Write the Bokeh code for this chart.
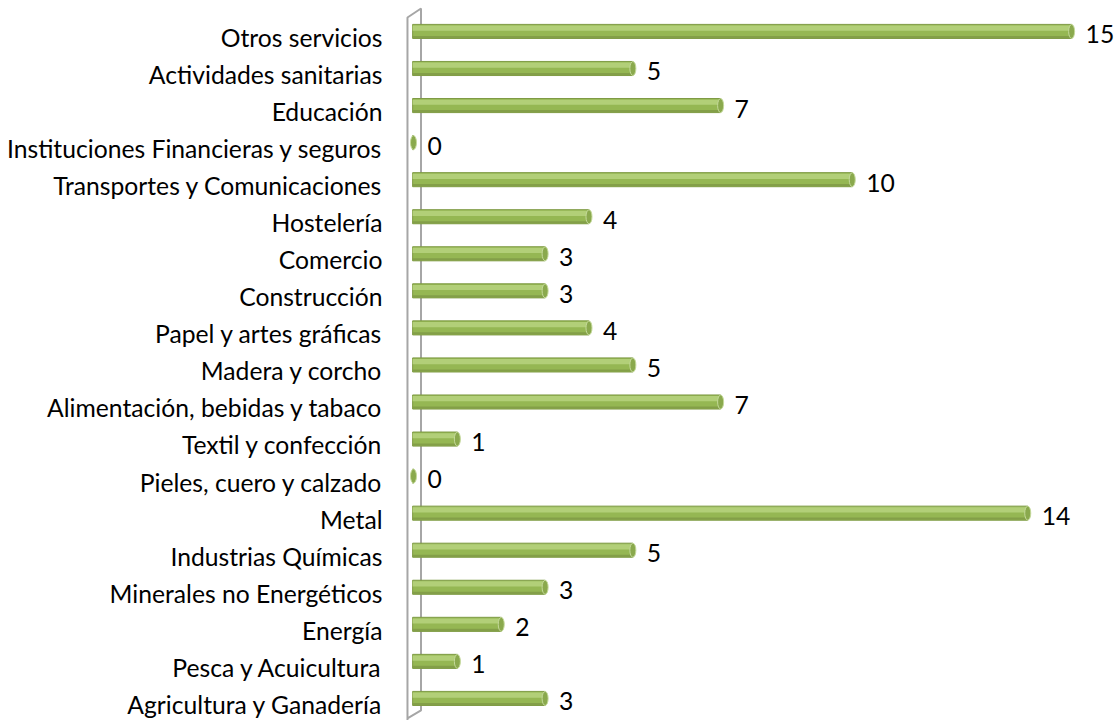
from bokeh.plotting import figure
from bokeh.models import Range1d, FixedTicker, ColumnDataSource
from bokeh.core.properties import value
from bokeh.embed import file_html
from bokeh.resources import INLINE

categories = [
    "Agricultura y Ganadería", "Pesca y Acuicultura", "Energía",
    "Minerales no Energéticos", "Industrias Químicas", "Metal",
    "Pieles, cuero y calzado", "Textil y confección",
    "Alimentación, bebidas y tabaco", "Madera y corcho",
    "Papel y artes gráficas", "Construcción", "Comercio", "Hostelería",
    "Transportes y Comunicaciones", "Instituciones Financieras y seguros",
    "Educación", "Actividades sanitarias", "Otros servicios",
]
values = [3, 1, 2, 3, 5, 14, 0, 1, 7, 5, 4, 3, 3, 4, 10, 0, 7, 5, 15]

FONT = "Lato"
n = len(categories)
idx = list(range(n))
LIFT = 0.16    # 3D bars sit slightly above their category labels
SHIFT = -0.03  # vertical fine-tuning of the frame

src = ColumnDataSource(dict(
    y=[i + LIFT for i in idx], v=values, lab=[str(v) for v in values],
    yt=[i + LIFT + 0.09 for i in idx], yb=[i + LIFT - 0.15 for i in idx],
))

p = figure(width=1115, height=720, output_backend="svg", toolbar_location=None,
           x_range=Range1d(-0.296, 16.0),
           y_range=Range1d(-0.405 + SHIFT, 19.025 + SHIFT),
           min_border_left=400, min_border_right=0, min_border_top=0,
           min_border_bottom=0)
p.outline_line_color = None
p.xgrid.visible = False
p.ygrid.visible = False
p.xaxis.visible = False

ax = p.yaxis[0]
ax.ticker = FixedTicker(ticks=idx)
ax.major_label_overrides = {i: c for i, c in enumerate(categories)}
ax.axis_line_color = None
ax.major_tick_line_color = None
ax.minor_tick_line_color = None
ax.major_tick_out = 0
ax.major_label_standoff = 18
ax.major_label_text_font = FONT
ax.major_label_text_font_size = "24.7px"
ax.major_label_text_color = "#000000"

# 3D wall
wall_c = "#a6a6a6"
xl, xr = -0.137, 0.171
wy = [-0.42, 18.566, 18.809, -0.133, -0.349, -0.42]
p.line([xl, xl, xr, xr, xl, xl], [y + SHIFT for y in wy],
       line_color=wall_c, line_width=2)

# cylinders
p.hbar(y="y", left=-0.02, right="v", height=0.38, source=src,
       fill_color="#95b753", line_color="#7f9b45", line_width=1)
p.hbar(y="yt", left=-0.02, right="v", height=0.14, source=src,
       fill_color="#b2cf78", line_color=None)
p.hbar(y="yb", left=-0.02, right="v", height=0.06, source=src,
       fill_color="#839f48", line_color=None)
p.ellipse(x="v", y="y", width=6, height=14, width_units="screen",
          height_units="screen", source=src, fill_color="#8aa94d",
          line_color="#c4d99a", line_width=1)

p.text(x="v", y="y", text="lab", source=src, x_offset=14, y_offset=3,
       text_baseline="middle", text_align="left",
       text_font=value(FONT), text_font_size="24.7px", text_color="#000000")

open("out.html", "w").write(file_html(p, INLINE))
